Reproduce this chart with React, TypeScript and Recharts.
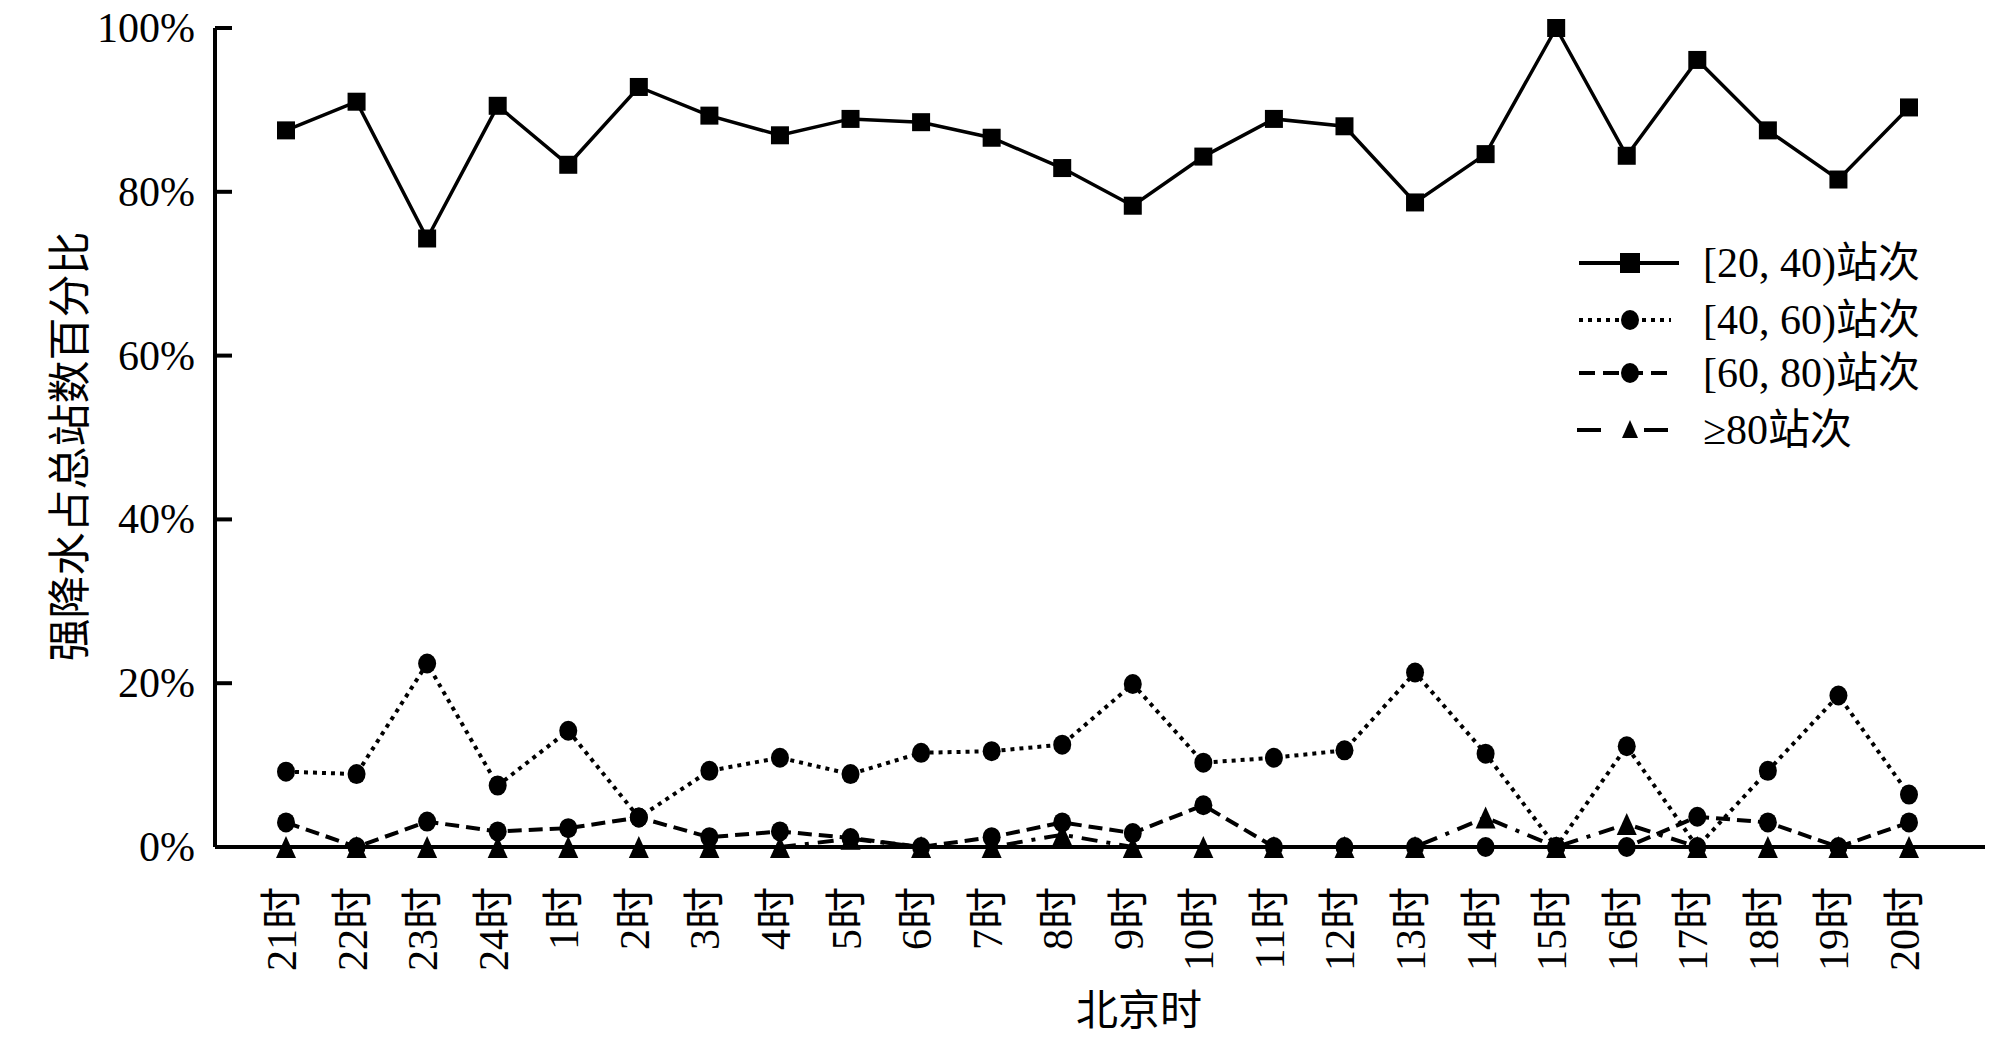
import React from 'react';
import { LineChart, Line, XAxis, YAxis, Legend, Label } from 'recharts';

// 北京时 21时 .. 20时
const hours = [
  '21时', '22时', '23时', '24时', '1时', '2时', '3时', '4时', '5时', '6时', '7时', '8时',
  '9时', '10时', '11时', '12时', '13时', '14时', '15时', '16时', '17时', '18时', '19时', '20时',
];

// 各等级站次占总站数百分比 (%)
const range20to40 = [87.5, 91.0, 74.3, 90.5, 83.3, 92.8, 89.3, 86.9, 88.9, 88.5, 86.6, 82.9, 78.3, 84.3, 88.9, 88.0, 78.7, 84.6, 100, 84.4, 96.1, 87.5, 81.5, 90.3];
const range40to60 = [9.2, 8.9, 22.4, 7.5, 14.2, 3.6, 9.3, 10.9, 8.9, 11.5, 11.7, 12.5, 19.9, 10.3, 10.9, 11.8, 21.3, 11.4, 0, 12.3, 0, 9.3, 18.5, 6.4];
const range60to80 = [3.0, 0, 3.1, 1.9, 2.3, 3.6, 1.2, 1.9, 1.1, 0, 1.2, 3.0, 1.7, 5.1, 0, 0, 0, 0, 0, 0, 3.7, 3.0, 0, 3.0];
const over80 = [0, 0, 0, 0, 0, 0, 0, 0, 1.0, 0, 0, 1.5, 0, 0, 0, 0, 0, 3.6, 0, 2.8, 0, 0, 0, 0];

const yTicks = [0, 20, 40, 60, 80, 100];

const seriesNames = ['[20, 40)站次', '[40, 60)站次', '[60, 80)站次', '≥80站次'];

const data = hours.map((h, i) => ({
  hour: h,
  a: range20to40[i],
  b: range40to60[i],
  c: range60to80[i],
  d: over80[i],
}));

const FONT = "'Liberation Serif', 'Noto Sans CJK SC', serif";

const squareDot = (props: any) => {
  const { cx, cy, index } = props;
  return <rect key={`sq-${index}`} x={cx - 9} y={cy - 9} width={18} height={18} fill="#000" />;
};

const circleDotB = (props: any) => {
  const { cx, cy, index } = props;
  return <ellipse key={`cb-${index}`} cx={cx} cy={cy} rx={9} ry={10} fill="#000" />;
};

const circleDotC = (props: any) => {
  const { cx, cy, index } = props;
  return <ellipse key={`cc-${index}`} cx={cx} cy={cy} rx={9} ry={10} fill="#000" />;
};

const triangleDot = (props: any) => {
  const { cx, cy, index } = props;
  return (
    <polygon
      key={`tr-${index}`}
      points={`${cx},${cy - 11} ${cx - 10},${cy + 11} ${cx + 10},${cy + 11}`}
      fill="#000"
    />
  );
};

const YTick = (props: any) => {
  const { x, y, payload } = props;
  return (
    <g>
      <line x1={x} x2={x + 17} y1={y} y2={y} stroke="#000" strokeWidth={4} />
      <text x={x - 20} y={y} textAnchor="end" dominantBaseline="central" fontSize={42} fontFamily={FONT} fill="#000">
        {payload.value}%
      </text>
    </g>
  );
};

const XTick = (props: any) => {
  const { x, y, payload } = props;
  const ty = y + 40;
  return (
    <text
      x={x - 4}
      y={ty}
      transform={`rotate(-90 ${x - 4} ${ty})`}
      textAnchor="end"
      dominantBaseline="central"
      fontSize={42}
      fontFamily={FONT}
      fill="#000"
    >
      {payload.value}
    </text>
  );
};

const XTitle = (props: any) => {
  const { viewBox } = props;
  return (
    <text x={1139} y={viewBox.y + 164} textAnchor="middle" dominantBaseline="central" fontSize={42} fontFamily={FONT} fill="#000">
      北京时
    </text>
  );
};

const YTitle = (props: any) => {
  const { viewBox } = props;
  const cy = viewBox.y + viewBox.height / 2 + 9;
  return (
    <text
      x={70}
      y={cy}
      transform={`rotate(-90 70 ${cy})`}
      textAnchor="middle"
      dominantBaseline="central"
      fontSize={43}
      fontFamily={FONT}
      fill="#000"
    >
      强降水占总站数百分比
    </text>
  );
};

const LegendBox = () => {
  const rows = [28, 85, 138, 195];
  return (
    <svg width={420} height={225} style={{ display: 'block' }}>
      {/* 实线 + 方块 */}
      <line x1={4} x2={104} y1={rows[0]} y2={rows[0]} stroke="#000" strokeWidth={4} />
      <rect x={55 - 10} y={rows[0] - 10} width={20} height={20} fill="#000" />
      {/* 点线 + 圆 */}
      <line x1={4} x2={96} y1={rows[1]} y2={rows[1]} stroke="#000" strokeWidth={4} strokeDasharray="4 5" />
      <ellipse cx={55} cy={rows[1]} rx={9} ry={10} fill="#000" />
      {/* 虚线 + 圆 */}
      <line x1={4} x2={94} y1={rows[2]} y2={rows[2]} stroke="#000" strokeWidth={4} strokeDasharray="16 8" />
      <ellipse cx={55} cy={rows[2]} rx={9} ry={10} fill="#000" />
      {/* 长虚线 + 三角 */}
      <line x1={2} x2={26} y1={rows[3]} y2={rows[3]} stroke="#000" strokeWidth={4} />
      <line x1={69} x2={93} y1={rows[3]} y2={rows[3]} stroke="#000" strokeWidth={4} />
      <polygon points={`55,${rows[3] - 10} 47,${rows[3] + 8} 63,${rows[3] + 8}`} fill="#000" />
      {seriesNames.map((n, i) => (
        <text key={n} x={128} y={rows[i]} dominantBaseline="central" fontSize={42} fontFamily={FONT} fill="#000">
          {n}
        </text>
      ))}
    </svg>
  );
};

export default function App() {
  return (
    <div style={{ position: 'absolute', left: 0, top: 0, width: 2000, height: 1038, background: '#fff' }}>
      <LineChart width={2000} height={1038} data={data} margin={{ top: 28, right: 15, bottom: 0, left: 0 }}>
        <XAxis
          dataKey="hour"
          height={191}
          padding={{ left: 71, right: 76 }}
          interval={0}
          tickLine={false}
          tickSize={0}
          tickMargin={0}
          tick={<XTick />}
          axisLine={{ stroke: '#000', strokeWidth: 4 }}
        >
          <Label content={<XTitle />} />
        </XAxis>
        <YAxis
          width={215}
          domain={[0, 100]}
          ticks={yTicks}
          interval={0}
          tickLine={false}
          tickSize={0}
          tickMargin={0}
          tick={<YTick />}
          axisLine={{ stroke: '#000', strokeWidth: 4 }}
        >
          <Label content={<YTitle />} />
        </YAxis>
        <Legend
          layout="vertical"
          verticalAlign="middle"
          align="center"
          content={<LegendBox />}
          wrapperStyle={{ position: 'absolute', left: 1575, top: 235, width: 420, right: 'auto', bottom: 'auto' }}
        />
        <Line
          type="linear"
          dataKey="d"
          name={seriesNames[3]}
          stroke="#000"
          strokeWidth={4}
          strokeDasharray="16 9 4 9"
          dot={triangleDot}
          activeDot={false}
          isAnimationActive={false}
        />
        <Line
          type="linear"
          dataKey="c"
          name={seriesNames[2]}
          stroke="#000"
          strokeWidth={4}
          strokeDasharray="14 7"
          dot={circleDotC}
          activeDot={false}
          isAnimationActive={false}
        />
        <Line
          type="linear"
          dataKey="b"
          name={seriesNames[1]}
          stroke="#000"
          strokeWidth={4}
          strokeDasharray="4 5"
          dot={circleDotB}
          activeDot={false}
          isAnimationActive={false}
        />
        <Line
          type="linear"
          dataKey="a"
          name={seriesNames[0]}
          stroke="#000"
          strokeWidth={3.5}
          dot={squareDot}
          activeDot={false}
          isAnimationActive={false}
        />
      </LineChart>
    </div>
  );
}
